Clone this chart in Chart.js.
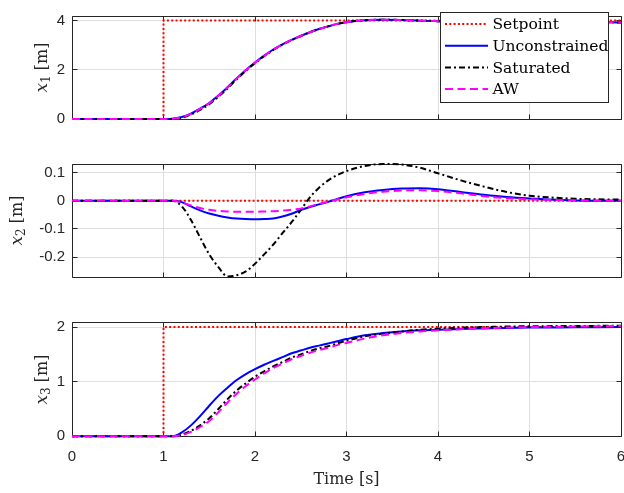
<!DOCTYPE html>
<html><head><meta charset="utf-8">
<script src="https://cdn.jsdelivr.net/npm/chart.js@4.4.1/dist/chart.umd.min.js"></script>
<style>
html,body{margin:0;padding:0;background:#fff;}
#wrap{position:relative;width:624px;height:493px;overflow:hidden;background:#fff;}
canvas{position:absolute;left:0;}
</style></head><body>
<div id="wrap">
<canvas id="c1" width="624" height="140" style="top:0px"></canvas>
<canvas id="c2" width="624" height="160" style="top:140px"></canvas>
<canvas id="c3" width="624" height="193" style="top:300px"></canvas>
</div>
<script>
// ---- data ----
const times = [0, 1.0, 1.1, 1.2, 1.3, 1.4, 1.5, 1.6, 1.7, 1.8, 1.9, 2.0, 2.1, 2.2, 2.3, 2.4, 2.5, 2.6, 2.7, 2.8, 2.9, 3.0, 3.2, 3.4, 3.6, 3.8, 4.0, 4.25, 4.5, 4.75, 5.0, 5.5, 6.0];
const spTimes = [0, 1, 1, 6];
const sp1 = [0, 0, 4, 4];
const sp2 = [0, 0, 0, 0];
const sp3 = [0, 0, 2, 2];

const x1Unc = [0,0,0.01,0.08,0.22,0.42,0.65,0.95,1.29,1.65,1.99,2.29,2.57,2.82,3.03,3.21,3.37,3.52,3.65,3.76,3.86,3.93,4.01,4.03,4.02,3.99,3.97,3.95,3.94,3.94,3.93,3.93,3.92];
const x1Sat = [0,0,0,0.05,0.18,0.37,0.60,0.90,1.24,1.61,1.95,2.26,2.55,2.80,3.02,3.20,3.37,3.52,3.65,3.76,3.86,3.93,4.01,4.03,4.02,3.99,3.97,3.95,3.94,3.94,3.93,3.93,3.92];
const x1AW  = [0,0,0.01,0.07,0.21,0.41,0.64,0.94,1.28,1.64,1.98,2.28,2.56,2.81,3.02,3.21,3.37,3.52,3.65,3.76,3.86,3.93,4.01,4.03,4.02,3.99,3.97,3.95,3.94,3.94,3.93,3.93,3.92];

const x2Unc = [0,0,0,-0.005,-0.02,-0.034,-0.045,-0.053,-0.059,-0.063,-0.065,-0.066,-0.065,-0.063,-0.056,-0.046,-0.033,-0.022,-0.013,-0.004,0.006,0.016,0.030,0.038,0.043,0.044,0.041,0.031,0.021,0.013,0.008,0.001,0];
const x2Sat = [0,0,0,-0.02,-0.068,-0.13,-0.19,-0.235,-0.268,-0.264,-0.25,-0.223,-0.19,-0.155,-0.115,-0.076,-0.033,0.012,0.046,0.072,0.091,0.105,0.123,0.13,0.128,0.117,0.097,0.072,0.05,0.031,0.018,0.007,0.004];
const x2AW  = [0,0,0,-0.006,-0.017,-0.026,-0.032,-0.036,-0.038,-0.039,-0.039,-0.039,-0.038,-0.037,-0.035,-0.032,-0.028,-0.020,-0.011,-0.003,0.004,0.012,0.024,0.032,0.036,0.037,0.034,0.026,0.016,0.009,0.005,0.001,0];

const x3Unc = [0,0,0,0.07,0.2,0.37,0.56,0.74,0.89,1.03,1.14,1.23,1.31,1.38,1.45,1.52,1.57,1.62,1.66,1.70,1.74,1.78,1.85,1.89,1.92,1.94,1.95,1.965,1.975,1.985,1.99,1.995,2.0];
const x3Sat = [0,0,0,0.03,0.1,0.2,0.33,0.5,0.68,0.84,0.97,1.09,1.19,1.28,1.36,1.44,1.5,1.56,1.61,1.65,1.70,1.75,1.83,1.88,1.92,1.95,1.97,1.99,2.0,2.01,2.015,2.02,2.025];
const x3AW  = [0,0,0,0.02,0.08,0.17,0.28,0.44,0.62,0.78,0.92,1.04,1.15,1.25,1.33,1.41,1.47,1.53,1.58,1.62,1.67,1.71,1.79,1.85,1.89,1.92,1.94,1.96,1.98,1.99,2.0,2.01,2.02];

const seriesNames = ['Setpoint', 'Unconstrained', 'Saturated', 'AW'];
const xTicks = [0, 1, 2, 3, 4, 5, 6];
const yTicks1 = [0, 2, 4];
const yTicks2 = [-0.2, -0.1, 0, 0.1];
const yTicks3 = [0, 1, 2];
const yRange1 = [0, 4.18];
const yRange2 = [-0.27, 0.13];
const yRange3 = [0, 2.08];
const xTitle = 'Time [s]';

// ---- styles ----
const styles = [
  {color: '#ff0000', width: 2, dash: [2, 2.3], order: 4},
  {color: '#0000ff', width: 2, dash: [], order: 3},
  {color: '#000000', width: 2, dash: [6, 3, 2, 3], order: 2},
  {color: '#ff00ff', width: 2, dash: [8, 4.5], order: 1}
];
const AX = '#262626';
const GRID = '#dedede';
const TICKFONT = {family: '"Liberation Sans", Arial, sans-serif', size: 15};
const SERIF = '"DejaVu Serif", serif';

function pts(xs, ys) { return xs.map((x, i) => ({x: x, y: ys[i]})); }

function makeDatasets(sp, unc, sat, aw) {
  const series = [pts(spTimes, sp), pts(times, unc), pts(times, sat), pts(times, aw)];
  return series.map((d, i) => ({
    label: seriesNames[i],
    data: d,
    borderColor: styles[i].color,
    borderWidth: styles[i].width,
    borderDash: styles[i].dash,
    order: styles[i].order,
    pointRadius: 0,
    fill: false,
    tension: 0,
    cubicInterpolationMode: i === 0 ? 'default' : 'monotone',
    clip: 4
  }));
}

function alignPx(p) { return Math.round(p - 0.5) + 0.5; }

const framePlugin = {
  id: 'frame',
  beforeDatasetsDraw(chart) {
    const {ctx, chartArea: a, scales} = chart;
    const L = alignPx(a.left), R = alignPx(a.right), T = alignPx(a.top), B = alignPx(a.bottom);
    ctx.save();
    ctx.strokeStyle = AX;
    ctx.lineWidth = 1;
    ctx.setLineDash([]);
    ctx.beginPath();
    ctx.rect(L, T, R - L, B - T);
    const tl = 5;
    scales.x.ticks.forEach(t => {
      const px = alignPx(scales.x.getPixelForValue(t.value));
      ctx.moveTo(px, B); ctx.lineTo(px, B - tl);
      ctx.moveTo(px, T); ctx.lineTo(px, T + tl);
    });
    scales.y.ticks.forEach(t => {
      const py = alignPx(scales.y.getPixelForValue(t.value));
      ctx.moveTo(L, py); ctx.lineTo(L + tl, py);
      ctx.moveTo(R, py); ctx.lineTo(R - tl, py);
    });
    ctx.stroke();
    ctx.restore();
  },
  afterDraw(chart, args, opts) {
    // y axis title: x_n [m]
    const {ctx, chartArea: a} = chart;
    ctx.save();
    ctx.translate(opts.titleX, (a.top + a.bottom) / 2);
    ctx.rotate(-Math.PI / 2);
    ctx.fillStyle = AX;
    ctx.textBaseline = 'middle';
    ctx.textAlign = 'left';
    const fx = 'italic 17px ' + SERIF, fsub = '12px ' + SERIF, fr = '16px ' + SERIF;
    ctx.font = fx; const w1 = ctx.measureText('x').width;
    ctx.font = fsub; const w2 = ctx.measureText(opts.sub).width;
    ctx.font = fr; const w3 = ctx.measureText(' [m]').width;
    let x0 = -(w1 + w2 + w3) / 2;
    ctx.font = fx; ctx.fillText('x', x0, 0); x0 += w1;
    ctx.font = fsub; ctx.fillText(opts.sub, x0, 4); x0 += w2;
    ctx.font = fr; ctx.fillText(' [m]', x0, 0);
    ctx.restore();
  }
};

const legendPlugin = {
  id: 'boxLegend',
  afterDraw(chart, args, opts) {
    if (!opts.show) return;
    const {ctx} = chart;
    const bx = 440.5, by = 12.5, bw = 168, bh = 90;
    ctx.save();
    ctx.fillStyle = '#ffffff';
    ctx.fillRect(bx, by, bw, bh);
    ctx.strokeStyle = AX;
    ctx.lineWidth = 1;
    ctx.setLineDash([]);
    ctx.strokeRect(bx, by, bw, bh);
    const rows = [24, 45.7, 67.5, 89];
    ctx.font = '15.5px ' + SERIF;
    ctx.textBaseline = 'middle';
    ctx.textAlign = 'left';
    chart.data.datasets.forEach((ds, i) => {
      const y = rows[i];
      ctx.beginPath();
      ctx.strokeStyle = ds.borderColor;
      ctx.lineWidth = ds.borderWidth;
      ctx.setLineDash(ds.borderDash);
      ctx.moveTo(445, y); ctx.lineTo(488, y);
      ctx.stroke();
      ctx.setLineDash([]);
      ctx.fillStyle = '#000000';
      ctx.fillText(ds.label, 492.5, y + 1);
    });
    ctx.restore();
  }
};

function makeChart(id, datasets, yRange, yTicks, cfg) {
  return new Chart(document.getElementById(id), {
    type: 'line',
    data: {datasets: datasets},
    plugins: [framePlugin, legendPlugin],
    options: {
      responsive: false,
      animation: false,
      devicePixelRatio: 1,
      layout: {padding: {top: cfg.top, right: 3, left: 0, bottom: 0}},
      plugins: {
        legend: {display: false},
        tooltip: {enabled: false},
        frame: {titleX: cfg.titleX, sub: cfg.sub},
        boxLegend: {show: !!cfg.legend}
      },
      scales: {
        x: {
          type: 'linear', min: 0, max: 6,
          afterBuildTicks: s => { s.ticks = xTicks.map(v => ({value: v})); },
          afterFit: s => { s.height = cfg.xh; s.paddingLeft = 0; s.paddingRight = 0; },
          grid: {color: GRID, lineWidth: 1, drawTicks: false},
          border: {display: false},
          ticks: {display: !!cfg.xlabels, font: TICKFONT, color: AX, padding: 12, maxRotation: 0,
                  callback: v => String(v)},
          title: {display: !!cfg.xlabels, text: xTitle, color: AX,
                  font: {family: SERIF, size: 16}, padding: {top: -2}}
        },
        y: {
          type: 'linear', min: yRange[0], max: yRange[1],
          afterBuildTicks: s => { s.ticks = yTicks.map(v => ({value: v})); },
          afterFit: s => { s.width = 72; },
          grid: {color: GRID, lineWidth: 1, drawTicks: false},
          border: {display: false},
          ticks: {font: TICKFONT, color: AX, padding: 7, callback: v => String(v)}
        }
      }
    }
  });
}

makeChart('c1', makeDatasets(sp1, x1Unc, x1Sat, x1AW), yRange1, yTicks1,
  {top: 5, xh: 21, titleX: 43, sub: '1', legend: true});
makeChart('c2', makeDatasets(sp2, x2Unc, x2Sat, x2AW), yRange2, yTicks2,
  {top: 24, xh: 23, titleX: 18, sub: '2'});
makeChart('c3', makeDatasets(sp3, x3Unc, x3Sat, x3AW), yRange3, yTicks3,
  {top: 22.7, xh: 56.7, titleX: 43, sub: '3', xlabels: true});
</script>
</body></html>
